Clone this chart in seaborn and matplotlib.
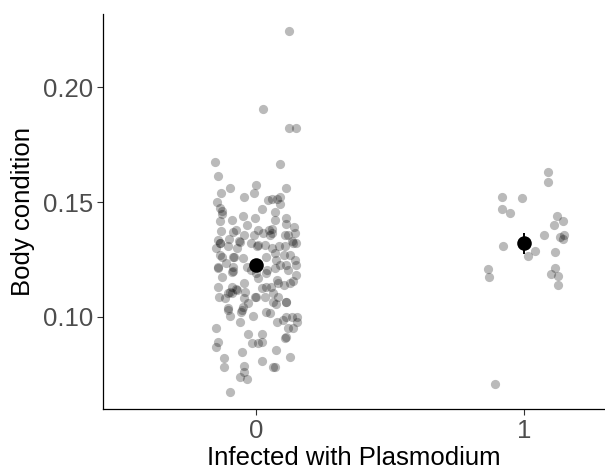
import matplotlib
matplotlib.use("Agg")
import matplotlib.pyplot as plt
import seaborn as sns
import pandas as pd

# jittered raw points, uninfected birds (Plasmodium = 0)
uninf_x = [0.122, 0.026, 0.122, 0.151, 0.089, -0.153, -0.141, 0.111, -0.095, -0.130,
           -0.001, -0.006, -0.045, 0.059, 0.078, 0.091, 0.045, -0.144, -0.135, 0.088,
           0.024, -0.127, -0.125, 0.071, -0.133, -0.088, -0.050, -0.004, -0.033, -0.073,
           -0.086, -0.130, 0.007, 0.049, 0.059, 0.072, 0.114, 0.111, 0.143, 0.147,
           0.026, 0.053, 0.118, -0.043, -0.141, -0.133, -0.101, -0.065, -0.105, -0.072,
           -0.019, 0.003, 0.032, 0.059, 0.085, 0.108, 0.133, 0.148, -0.148, 0.104,
           -0.009, -0.135, -0.127, -0.081, -0.048, -0.112, -0.084, -0.033, 0.039, 0.076,
           0.089, 0.111, 0.146, 0.151, -0.141, -0.127, -0.085, -0.017, -0.001, 0.039,
           0.071, 0.118, 0.148, -0.045, 0.007, 0.082, 0.104, 0.137, -0.141, -0.091,
           -0.073, -0.105, -0.091, -0.040, 0.024, 0.039, 0.058, 0.065, 0.082, 0.001,
           -0.043, 0.111, 0.076, -0.138, -0.114, -0.104, -0.050, -0.097, -0.055, -0.012,
           -0.058, 0.039, 0.053, 0.111, 0.133, 0.154, 0.102, 0.079, 0.154, -0.148,
           -0.029, 0.024, 0.118, 0.140, 0.114, 0.108, -0.141, -0.148, -0.014, 0.007,
           0.024, -0.052, 0.075, -0.120, -0.120, 0.024, 0.128, 0.062, 0.071, -0.043,
           -0.045, -0.059, -0.032, -0.095,
           -0.134, -0.060, 0.009, 0.059, 0.108, 0.139, 0.071, 0.127, -0.085, -0.141,
           -0.091, 0.042, 0.080, 0.127, -0.097, -0.072, -0.004, 0.034, 0.065, -0.029,
           -0.103, 0.111, -0.053]
uninf_y = [0.2245, 0.1905, 0.1821, 0.1821, 0.1667, 0.1675, 0.1613, 0.1559, 0.1560, 0.1539,
           0.1576, 0.1539, 0.1524, 0.1512, 0.1512, 0.1524, 0.1509, 0.1498, 0.1473, 0.1492,
           0.1470, 0.1459, 0.1447, 0.1457, 0.1419, 0.1422, 0.1437, 0.1429, 0.1400, 0.1376,
           0.1371, 0.1373, 0.1378, 0.1376, 0.1383, 0.1422, 0.1429, 0.1405, 0.1389, 0.1364,
           0.1364, 0.1357, 0.1357, 0.1357, 0.1335, 0.1323, 0.1338, 0.1332, 0.1306, 0.1298,
           0.1323, 0.1306, 0.1313, 0.1298, 0.1306, 0.1306, 0.1332, 0.1320, 0.1298, 0.1269,
           0.1357, 0.1268, 0.1262, 0.1259, 0.1255, 0.1233, 0.1218, 0.1218, 0.1262, 0.1247,
           0.1226, 0.1226, 0.1247, 0.1226, 0.1211, 0.1175, 0.1197, 0.1204, 0.1189, 0.1192,
           0.1211, 0.1204, 0.1180, 0.1148, 0.1167, 0.1146, 0.1138, 0.1156, 0.1128, 0.1128,
           0.1119, 0.1102, 0.1102, 0.1109, 0.1124, 0.1128, 0.1131, 0.1102, 0.1087, 0.1087,
           0.1083, 0.1066, 0.1055, 0.1087, 0.1080, 0.1036, 0.1044, 0.1003, 0.1022, 0.1003,
           0.0978, 0.1022, 0.1015, 0.1000, 0.1000, 0.1000, 0.0985, 0.0978, 0.0978, 0.0949,
           0.0923, 0.0923, 0.0949, 0.0949, 0.0913, 0.0905, 0.0891, 0.0869, 0.0884, 0.0884,
           0.0891, 0.0847, 0.0854, 0.0818, 0.0779, 0.0808, 0.0825, 0.0779, 0.0779, 0.0786,
           0.0760, 0.0735, 0.0726, 0.0672,
           0.1320, 0.1327, 0.1313, 0.1364, 0.1356, 0.1320, 0.1276, 0.1269, 0.1262, 0.1218,
           0.1196, 0.1204, 0.1160, 0.1146, 0.1109, 0.1116, 0.1087, 0.1087, 0.1065, 0.1058,
           0.1029, 0.1065, 0.1029]

# infected birds (Plasmodium = 1)
inf_x = [1.091, 1.091, 0.918, 0.993, 0.917, 0.947, 1.123, 1.144, 1.111, 1.076,
         1.150, 1.134, 1.146, 0.923, 1.041, 1.014, 1.117, 0.865, 0.868, 1.117,
         1.099, 1.125, 1.127, 0.893]
inf_y = [0.1631, 0.1589, 0.1521, 0.1516, 0.1470, 0.1451, 0.1439, 0.1417, 0.1399, 0.1356,
         0.1356, 0.1346, 0.1338, 0.1310, 0.1287, 0.1265, 0.1281, 0.1208, 0.1172, 0.1214,
         0.1186, 0.1177, 0.1140, 0.0707]

# group means and standard errors
groups = [0, 1]
means = [0.1225, 0.1320]
errs = [0.0020, 0.0046]

raw = pd.DataFrame({
    "x": uninf_x + inf_x,
    "y": uninf_y + inf_y,
})
summ = pd.DataFrame({"x": groups, "y": means})

sns.set_style("ticks")
plt.rcParams["font.family"] = ["Liberation Sans", "DejaVu Sans"]

fig = plt.figure(figsize=(6.05, 4.68), dpi=100)
ax = fig.add_axes([0.170, 0.126, 0.830, 0.844])

sns.scatterplot(data=raw, x="x", y="y", ax=ax, color="black", alpha=0.27,
                s=44, linewidth=0, legend=False)
ax.errorbar(groups, means, yerr=errs, fmt="none", ecolor="black",
            elinewidth=1.4, capsize=0, zorder=3)
sns.scatterplot(data=summ, x="x", y="y", ax=ax, color="black", s=110,
                linewidth=0, legend=False, zorder=4)

ax.set_xlim(-0.571, 1.302)
ax.set_ylim(0.0597, 0.2320)
ax.set_xticks([0, 1])
ax.set_xticklabels(["0", "1"])
ax.set_yticks([0.10, 0.15, 0.20])
ax.set_yticklabels(["0.10", "0.15", "0.20"])

ax.set_xlabel("Infected with Plasmodium", fontsize=18.5, color="black", labelpad=2)
ax.set_ylabel("Body condition", fontsize=18.5, color="black", labelpad=6)
ax.tick_params(axis="both", labelsize=18.5, labelcolor="#4d4d4d", color="#333333",
               length=4, width=0.8, pad=3)

sns.despine(ax=ax)
for side in ["left", "bottom"]:
    ax.spines[side].set_color("black")
    ax.spines[side].set_linewidth(0.9)

fig.savefig("out.png", dpi=100)
